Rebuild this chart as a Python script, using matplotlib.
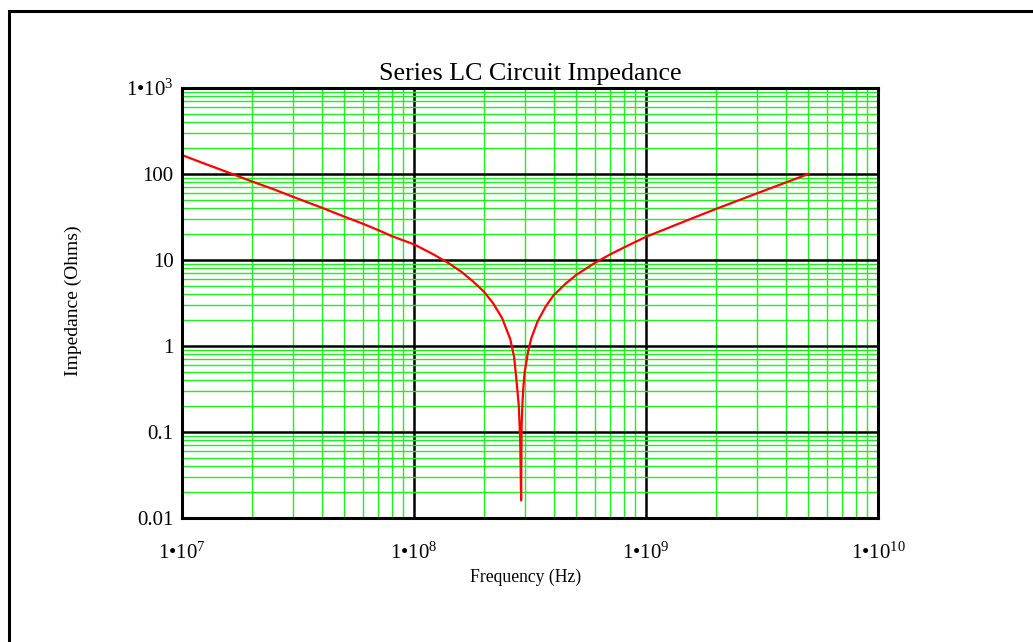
import numpy as np
import matplotlib
matplotlib.use("Agg")
import matplotlib.pyplot as plt
from matplotlib.patches import Rectangle
from matplotlib.ticker import FixedLocator, LogLocator, NullFormatter

plt.rcParams['font.family'] = ['Liberation Serif', 'DejaVu Serif']
plt.rcParams['mathtext.fontset'] = 'custom'
plt.rcParams['mathtext.rm'] = 'Liberation Serif'
plt.rcParams['mathtext.it'] = 'Liberation Serif:italic'
plt.rcParams['mathtext.bf'] = 'Liberation Serif:bold'

# Values
freq = [1e7, 1.25e7, 1.5e7, 2e7, 2.5e7, 3e7, 4e7, 5e7, 6e7, 7e7, 8e7,
        1e8, 1.2e8, 1.4e8, 1.6e8, 1.8e8, 2e8, 2.2e8, 2.4e8, 2.6e8, 2.7e8,
        2.77e8, 2.83e8, 2.87e8, 2.895e8, 2.91e8, 2.93e8, 2.96e8, 3e8,
        3.1e8, 3.2e8, 3.4e8, 3.7e8, 4e8, 4.5e8, 5e8, 6e8, 7e8, 8e8,
        1e9, 1.3e9, 1.6e9, 2e9, 2.5e9, 3e9, 4e9, 5e9]
impedance = [166, 132, 110, 82, 66, 54.5, 40.6, 32, 26.5, 22.3, 19,
             15.2, 11.8, 9.3, 7.3, 5.6, 4.3, 3.1, 2.1, 1.2, 0.75,
             0.38, 0.2, 0.08, 0.016, 0.12, 0.2, 0.33, 0.5,
             0.85, 1.22, 1.9, 2.9, 3.9, 5.3, 6.7, 9.2, 11.6, 13.9,
             18.6, 24.7, 30.9, 39.2, 49.3, 59.4, 79.6, 99.7]

x_ticks = [1e7, 1e8, 1e9, 1e10]
x_labels = ['1\u202210$^{7}$', '1\u202210$^{8}$', '1\u202210$^{9}$', '1\u202210$^{10}$']
y_ticks = [0.01, 0.1, 1, 10, 100, 1000]
y_labels = ['0.01', '0.1', '1', '10', '100', '1\u202210$^{3}$']

fig = plt.figure(figsize=(10.33, 6.42), dpi=100)
ax = fig.add_axes([182 / 1033, 1 - 518 / 642, 696 / 1033, 430 / 642])

ax.plot(freq, impedance, color='red', lw=1.6, zorder=3)
ax.set_xscale('log')
ax.set_yscale('log')
ax.set_xlim(1e7, 1e10)
ax.set_ylim(0.01, 1000)

# green minor grid, black decade grid
ax.xaxis.set_minor_locator(LogLocator(base=10, subs=np.arange(2, 10)))
ax.yaxis.set_minor_locator(LogLocator(base=10, subs=np.arange(2, 10)))
ax.xaxis.set_minor_formatter(NullFormatter())
ax.yaxis.set_minor_formatter(NullFormatter())
ax.grid(True, which='minor', color='#1ef01e', lw=1.0, zorder=1)
ax.grid(True, which='major', color='black', lw=1.8, zorder=2)

ax.xaxis.set_major_locator(FixedLocator(x_ticks))
ax.yaxis.set_major_locator(FixedLocator(y_ticks))
ax.set_xticklabels(x_labels)
ax.set_yticklabels(y_labels)
ax.tick_params(which='both', length=0, labelsize=15)
ax.tick_params(axis='x', pad=18)
ax.tick_params(axis='y', pad=6)

for s in ax.spines.values():
    s.set_linewidth(2.2)
    s.set_zorder(4)

ax.set_title('Series LC Circuit Impedance', fontsize=18.7, pad=6)
ax.set_xlabel('Frequency (Hz)', fontsize=12.7)
ax.set_ylabel('Impedance (Ohms)', fontsize=14)
ax.xaxis.set_label_coords(0.493, -0.118)
ax.yaxis.set_label_coords(-0.143, 0.505)

# outer frame, clipped at right and bottom like the reference
fig.patches.append(Rectangle((9 / 1033, -0.1), 1.2, 1.1 - 11 / 642,
                             transform=fig.transFigure, fill=False,
                             ec='black', lw=2.2))

plt.savefig('out.png', dpi=100)
